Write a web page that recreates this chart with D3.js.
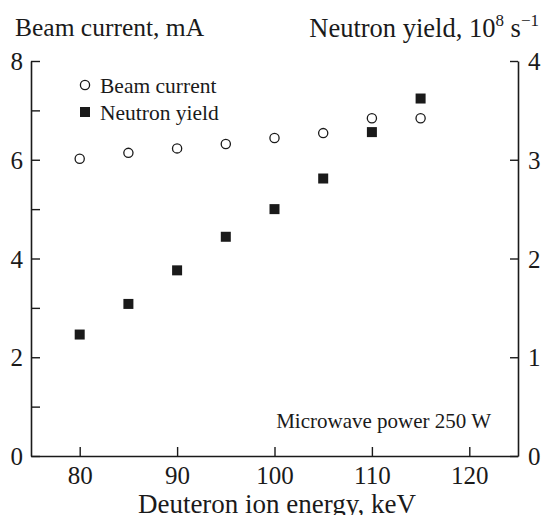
<!DOCTYPE html>
<html>
<head>
<meta charset="utf-8">
<script src="https://cdn.jsdelivr.net/npm/d3@7"></script>
<style>
  body { margin: 0; background: #fff; }
  svg text { font-family: "Liberation Serif", "Times New Roman", serif; fill: #1a1a1a; }
</style>
</head>
<body>
<div id="chart"></div>
<script>
// deuteron energy, keV
var energy = [80, 85, 90, 95, 100, 105, 110, 115];
// beam current, mA (left axis)
var beamCurrent = [6.02, 6.14, 6.23, 6.32, 6.44, 6.54, 6.84, 6.84];
// neutron yield, 10^8 s^-1 (right axis)
var neutronYield = [1.23, 1.54, 1.88, 2.22, 2.50, 2.81, 3.28, 3.62];

var xTicks = [80, 90, 100, 110, 120];
var leftTicks = [0, 1, 2, 3, 4, 5, 6, 7, 8];
var leftLabels = [0, 2, 4, 6, 8];
var rightTicks = [0, 1, 2, 3, 4];

var width = 543,
    height = 515;

var svg = d3.select("#chart").append("svg")
    .attr("width", width)
    .attr("height", height);

var x = d3.scaleLinear().domain([75, 125]).range([31, 518]);
var yL = d3.scaleLinear().domain([0, 8]).range([456, 61]);
var yR = d3.scaleLinear().domain([0, 4]).range([456, 61]);

var ink = "#1a1a1a";

// axes, ticks point inward
var bottom = svg.append("g")
    .attr("transform", "translate(0," + yL(0) + ")")
    .call(d3.axisBottom(x).tickValues(xTicks).tickSizeInner(-9).tickSizeOuter(0).tickPadding(10));

var left = svg.append("g")
    .attr("transform", "translate(" + x(75) + ",0)")
    .call(d3.axisLeft(yL).tickValues(leftTicks).tickSizeInner(-9).tickSizeOuter(0).tickPadding(8)
        .tickFormat(function(d) { return leftLabels.indexOf(d) >= 0 ? d : ""; }));

var right = svg.append("g")
    .attr("transform", "translate(" + x(125) + ",0)")
    .call(d3.axisRight(yR).tickValues(rightTicks).tickSizeInner(-8).tickSizeOuter(0).tickPadding(10)
        .tickFormat(d3.format("d")));

[bottom, left, right].forEach(function(g) {
    g.select(".domain").attr("stroke", ink).attr("stroke-width", 1.6);
    g.selectAll(".tick line").attr("stroke", ink).attr("stroke-width", 1.4);
    g.selectAll(".tick text")
        .style("font-family", '"Liberation Serif", serif')
        .attr("font-size", 25)
        .attr("fill", ink);
});
bottom.selectAll(".tick text").attr("dy", "0.71em");
left.selectAll(".tick text").attr("dy", "0.34em");
right.selectAll(".tick text").attr("dy", "0.34em");

// beam current: open circles
svg.selectAll("circle.beam")
    .data(energy).enter().append("circle")
    .attr("class", "beam")
    .attr("cx", function(d) { return x(d); })
    .attr("cy", function(d, i) { return yL(beamCurrent[i]); })
    .attr("r", 4.6)
    .attr("fill", "none")
    .attr("stroke", ink)
    .attr("stroke-width", 1.3);

// neutron yield: filled squares
var s = 10;
svg.selectAll("rect.yield")
    .data(energy).enter().append("rect")
    .attr("class", "yield")
    .attr("x", function(d) { return x(d) - s / 2; })
    .attr("y", function(d, i) { return yR(neutronYield[i]) - s / 2; })
    .attr("width", s)
    .attr("height", s)
    .attr("fill", ink);

// legend
svg.append("circle").attr("cx", 85).attr("cy", 85).attr("r", 4.6)
    .attr("fill", "none").attr("stroke", ink).attr("stroke-width", 1.3);
svg.append("text").attr("x", 100).attr("y", 85).attr("dy", "0.35em")
    .attr("font-size", 21.5).text("Beam current");
svg.append("rect").attr("x", 80).attr("y", 107).attr("width", s).attr("height", s).attr("fill", ink);
svg.append("text").attr("x", 100).attr("y", 112).attr("dy", "0.35em")
    .attr("font-size", 21.5).text("Neutron yield");

svg.append("text").attr("x", 491).attr("y", 421).attr("dy", "0.35em")
    .attr("text-anchor", "end").attr("font-size", 21)
    .text("Microwave power 250 W");

// axis titles
svg.append("text").attr("x", 15).attr("y", 36)
    .attr("font-size", 25.5).text("Beam current, mA");

var rt = svg.append("text").attr("x", 539).attr("y", 36.5)
    .attr("text-anchor", "end").attr("font-size", 26.5);
rt.append("tspan").text("Neutron yield, 10");
rt.append("tspan").attr("dy", -11).attr("font-size", 17).text("8");
rt.append("tspan").attr("dy", 11).text(" s");
rt.append("tspan").attr("dy", -11).attr("font-size", 17).text("\u22121");

svg.append("text").attr("x", 277).attr("y", 513)
    .attr("text-anchor", "middle").attr("font-size", 27)
    .text("Deuteron ion energy, keV");
</script>
</body>
</html>
